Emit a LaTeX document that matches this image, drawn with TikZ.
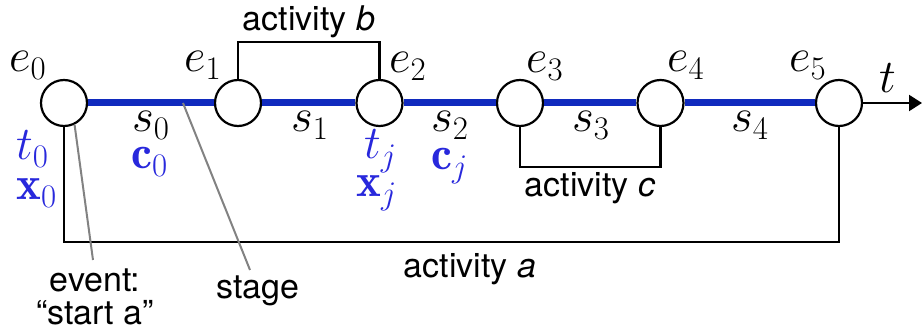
\RequirePackage{fix-cm}
\documentclass[tikz,border=0pt]{standalone}
\usepackage{fontspec}
\setsansfont{TeX Gyre Heros}
\usetikzlibrary{arrows.meta}
\definecolor{lineblue}{RGB}{16,42,190}
\definecolor{textblue}{RGB}{40,40,220}
\definecolor{ptrgray}{RGB}{130,130,130}
\tikzset{
  ev/.style={circle, draw, line width=2.2pt, minimum size=46pt, inner sep=0pt, fill=white},
  stg/.style={line width=7pt, draw=lineblue},
  act/.style={line width=2.2pt},
  ptr/.style={draw=ptrgray, line width=2pt},
  ml/.style={font=\fontsize{47}{50}\selectfont, inner sep=0pt, anchor=base west},
  bl/.style={ml, text=textblue},
  sl/.style={font=\sffamily\fontsize{34}{33}\selectfont, inner sep=0pt, align=center},
}
\begin{document}
\begin{tikzpicture}[x=1pt,y=-1pt]
\useasboundingbox (0,0) rectangle (922,331);
% event nodes
\node[ev] (e0) at (64,103) {};
\node[ev] (e1) at (238,103) {};
\node[ev] (e2) at (379.5,103) {};
\node[ev] (e3) at (520,103) {};
\node[ev] (e4) at (660.5,103) {};
\node[ev] (e5) at (839,103) {};
\coordinate (tend) at (922,103);
% stages
\draw[stg] (e0) -- (e1);
\draw[stg] (e1) -- (e2);
\draw[stg] (e2) -- (e3);
\draw[stg] (e3) -- (e4);
\draw[stg] (e4) -- (e5);
\draw[act, -{Triangle[length=13pt,width=16pt]}] (e5) -- (tend);
% activities
\draw[act] (e1.north) -- ++(0,-37) -| (e2.north);
\draw[act] (e3.south) -- ++(0,40) -| (e4.south);
\draw[act] (e0.south) -- ++(0,115) -| (e5.south);
% labels
\node[ml] (le0) at (9,72) {$e_0$};
\node[ml] (le1) at (184,72) {$e_1$};
\node[ml] (le2) at (389,73) {$e_2$};
\node[ml] (le3) at (526,73) {$e_3$};
\node[ml] (le4) at (667,72) {$e_4$};
\node[ml] (le5) at (789,72) {$e_5$};
\node[ml] (lt) at (879,93) {$t$};
\node[ml] (ls0) at (132,132) {$s_0$};
\node[ml] (ls1) at (291,132) {$s_1$};
\node[ml] (ls2) at (431,132) {$s_2$};
\node[ml] (ls3) at (572,132) {$s_3$};
\node[ml] (ls4) at (731,132) {$s_4$};
\node[bl] (lc0) at (131,169) {$\mathbf{c}_0$};
\node[bl] (lcj) at (431,170) {$\mathbf{c}_j$};
\node[bl] (lt0) at (16,160) {$t_0$};
\node[bl] (lx0) at (16,200) {$\mathbf{x}_0$};
\node[bl] (ltj) at (364,159) {$t_j$};
\node[bl] (lxj) at (356,197) {$\mathbf{x}_j$};
\node[sl] (lab) at (309,22) {activity \textit{b}};
\node[sl] (lac) at (590,188) {activity \textit{c}};
\node[sl] (laa) at (470,269) {activity \textit{a}};
\node[sl] (lst) at (258,291) {stage};
\node[sl] (lev) at (95,297) {event:\\“start a”};
% pointers
\coordinate (sp) at (183,103);
\coordinate (evp) at (93,260);
\coordinate (stp) at (250,270);
\draw[ptr] (e0.-64) -- (evp);
\draw[ptr] (sp) -- (stp);
\end{tikzpicture}
\end{document}
